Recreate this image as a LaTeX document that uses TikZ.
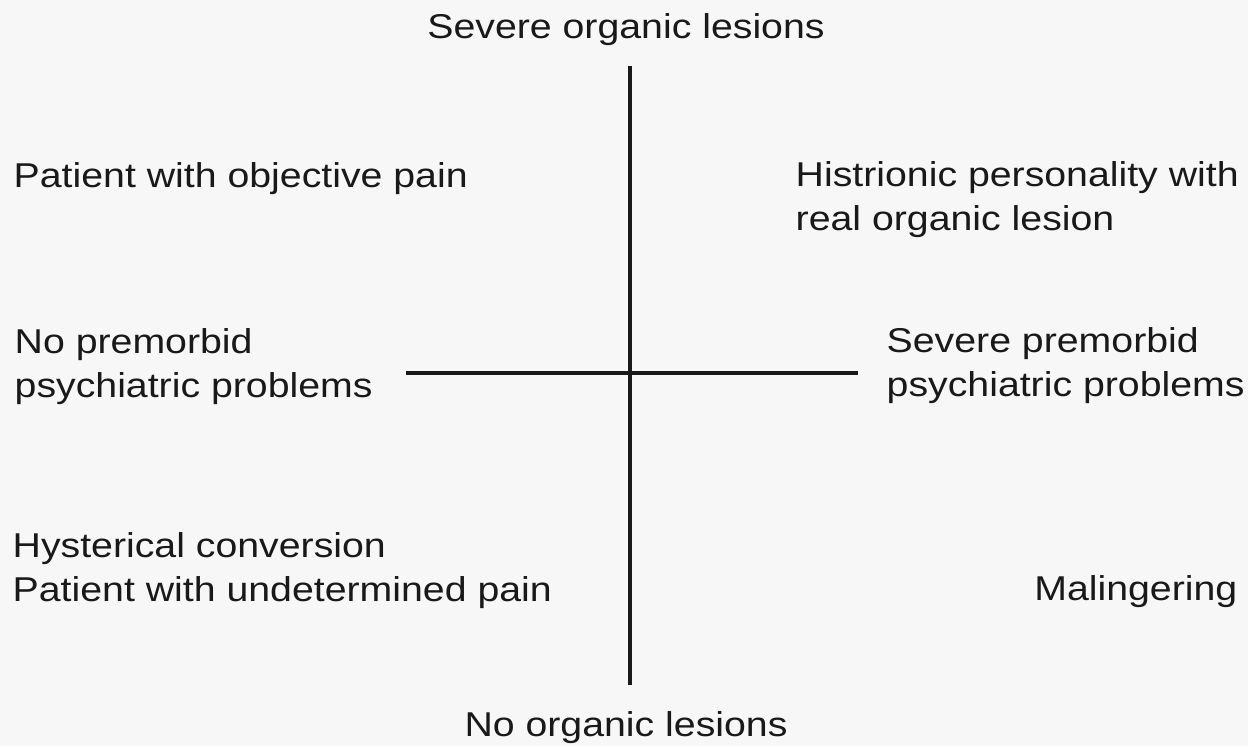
\documentclass[tikz,border=0pt]{standalone}
\usepackage{fontspec}
\setmainfont[FakeStretch=1.14]{Liberation Sans}
\usetikzlibrary{positioning}

\begin{document}
\begin{tikzpicture}[
      mylabel/.style={
         inner sep=0pt,
         align=left,
         text=black!90,
         font=\fontsize{9.8}{12.5}\selectfont},
      myaxis/.style={line width=0.9pt,draw=black!90}
      ]
      \fill[black!3] (0,0) rectangle (12.48,-7.46);
      \useasboundingbox (0,0) rectangle (12.48,-7.46);

      % axis ends
      \coordinate (top) at (6.30,-0.66);
      \coordinate (bottom) at (6.30,-6.85);
      \coordinate (left) at (4.06,-3.73);
      \coordinate (right) at (8.58,-3.73);

      \node[mylabel,anchor=north] (severe) at (6.26,-0.13) {Severe organic lesions};
      \node[mylabel,anchor=north] (noorganic) at (6.26,-7.11) {No organic lesions};

      \node[mylabel,anchor=north west] (objective) at (0.13,-1.62) {Patient with objective pain};
      \node[mylabel,anchor=north west] (histrionic) at (7.95,-1.61) {Histrionic personality with\\real organic lesion};
      \node[mylabel,anchor=north west] (nopremorbid) at (0.14,-3.28) {No premorbid\\psychiatric problems};
      \node[mylabel,anchor=north west] (sevpremorbid) at (8.86,-3.27) {Severe premorbid\\psychiatric problems};
      \node[mylabel,anchor=north west] (hysterical) at (0.12,-5.32) {Hysterical conversion\\Patient with undetermined pain};
      \node[mylabel,anchor=north east] (malinger) at (12.38,-5.75) {Malingering};

    \foreach \i/\j in {% start/end
      top/bottom,
      left/right}
       \draw [myaxis] (\i) -- (\j);

\end{tikzpicture}
\end{document}
